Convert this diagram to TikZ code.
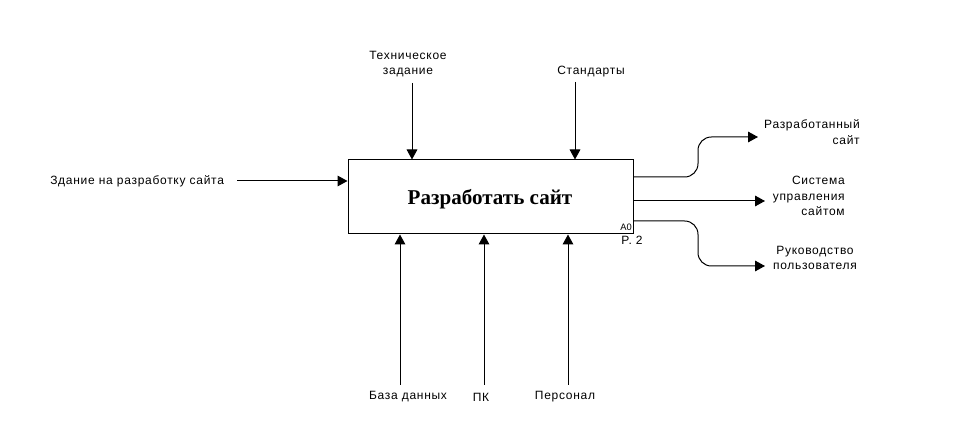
\documentclass[tikz,border=0pt]{standalone}
\usepackage{fontspec}
\setmainfont{Liberation Sans}
\newfontfamily\lblfont[LetterSpace=6]{Liberation Sans}
\newfontfamily\titlefont{Liberation Serif}
\usetikzlibrary{arrows.meta}
\tikzset{
  lbl/.style={font=\lblfont\fontsize{9}{11.5}\selectfont, inner sep=0pt},
  arr/.style={draw, line width=0.75pt, -{Triangle[length=7.5pt,width=8pt]}},
  funcbox/.style={draw, line width=0.75pt, minimum width=213.75pt, minimum height=55.5pt, inner sep=0pt}
}
\begin{document}
\begin{tikzpicture}[x=0.75pt,y=-0.75pt]
\useasboundingbox (0,0) rectangle (965,438);
% main box
\node[funcbox] (box) at (490.5,197) {};
\node[font=\titlefont\bfseries\fontsize{15.8}{18}\selectfont] (title) at (490,199) {Разработать сайт};
\node[inner sep=0pt, font=\fontsize{7}{8}\selectfont, anchor=south east] (a0) at (632,231) {A0};
\node[lbl] (p2) at (632,240) {P. 2};
% input
\node[lbl, anchor=west] (in1) at (50,181) {Здание на разработку сайта};
\coordinate (in1s) at (237,181);
\draw[arr] (in1s) -- (in1s -| box.west);
% controls
\node[lbl, align=center] (c1) at (408,64) {Техническое\\задание};
\coordinate (c1s) at (412,83);
\draw[arr] (c1s) -- (c1s |- box.north);
\node[lbl] (c2) at (591,72) {Стандарты};
\coordinate (c2s) at (575,82);
\draw[arr] (c2s) -- (c2s |- box.north);
% mechanisms
\node[lbl] (m1) at (408,397) {База данных};
\coordinate (m1s) at (400,385);
\draw[arr] (m1s) -- (m1s |- box.south);
\node[lbl] (m2) at (481,397) {ПК};
\coordinate (m2s) at (484,385);
\draw[arr] (m2s) -- (m2s |- box.south);
\node[lbl] (m3) at (565,397) {Персонал};
\coordinate (m3s) at (568,385);
\draw[arr] (m3s) -- (m3s |- box.south);
% outputs
\node[lbl, align=right, anchor=east] (o1) at (860,132) {Разработанный\\сайт};
\coordinate (o1e) at (758,137);
\coordinate (o1s) at (633,177);
\draw[arr, rounded corners=10pt] (o1s) -- (698,177) -- (698,137) -- (o1e);
\node[lbl, align=right, anchor=east] (o2) at (845,196) {Система\\управления\\сайтом};
\coordinate (o2s) at (633,201);
\coordinate (o2e) at (765,201);
\draw[arr] (o2s) -- (o2e);
\node[lbl, align=center] (o3) at (815,258) {Руководство\\пользователя};
\coordinate (o3s) at (633,221);
\coordinate (o3e) at (765,266);
\draw[arr, rounded corners=10pt] (o3s) -- (698,221) -- (698,266) -- (o3e);
\end{tikzpicture}
\end{document}
